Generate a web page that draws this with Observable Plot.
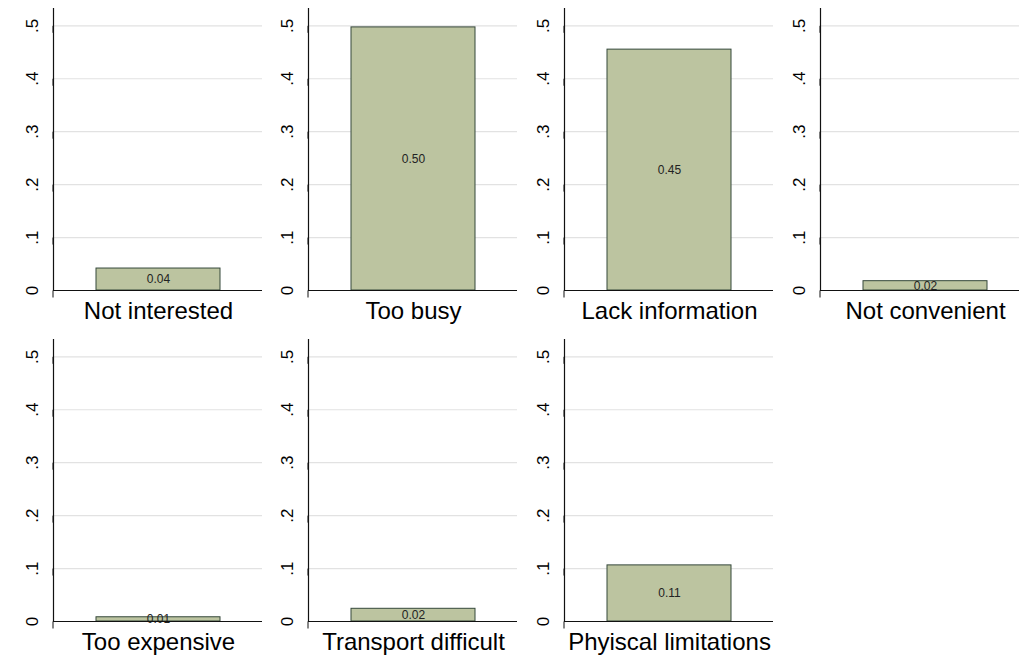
<!DOCTYPE html>
<html><head><meta charset="utf-8">
<script src="https://cdn.jsdelivr.net/npm/d3@7"></script>
<script src="https://cdn.jsdelivr.net/npm/@observablehq/plot@0.6"></script>
<style>
html,body{margin:0;padding:0;background:#fff;}
#chart{position:relative;width:1019px;height:655px;overflow:hidden;background:#fff;}
</style></head><body><div id="chart"></div>
<script>
const categories = ["Not interested", "Too busy", "Lack information", "Not convenient", "Too expensive", "Transport difficult", "Phyiscal limitations"];
const values = [0.0415, 0.497, 0.455, 0.0176, 0.008, 0.024, 0.106];
const valueLabels = ["0.04", "0.50", "0.45", "0.02", "0.01", "0.02", "0.11"];
const yTicks = [0, 0.1, 0.2, 0.3, 0.4, 0.5];
const yTickLabels = ["0", ".1", ".2", ".3", ".4", ".5"];
const panelCol = [0, 1, 2, 3, 0, 1, 2];
const panelRow = [0, 0, 0, 0, 1, 1, 1];

const colLeft = [0, 255, 511, 767];
const rowTop = [0, 331];
const tickLabelMap = new Map(yTicks.map((t, i) => [t, yTickLabels[i]]));
const font = "Arial, 'Liberation Sans', Helvetica, sans-serif";
const chart = document.getElementById("chart");

categories.forEach((cat, i) => {
  const d = [{cat, value: values[i], label: valueLabels[i]}];
  const svg = Plot.plot({
    width: 262, height: 330,
    marginLeft: 53, marginRight: 0, marginTop: 8, marginBottom: 40,
    style: {background: "transparent", fontFamily: font, color: "#000", overflow: "visible"},
    x: {type: "band", domain: [cat], padding: 0.255, label: null},
    y: {domain: [0, 0.5327], label: null},
    marks: [
      Plot.gridY(yTicks.slice(1), {stroke: "#e2e2e2", strokeOpacity: 1, strokeWidth: 1.2}),
      Plot.barY(d, {x: "cat", y: "value", fill: "#bcc4a0", stroke: "#35483b", strokeWidth: 1}),
      Plot.text(d, {x: "cat", y: v => v.value / 2, text: "label", fontSize: 12, fill: "#222"}),
      Plot.ruleY([0], {stroke: "#111", strokeWidth: 1.2}),
      Plot.frame({anchor: "left", stroke: "#111", strokeWidth: 1.2}),
      Plot.axisY(yTicks, {tickSize: 7, tickPadding: 14, rotate: -90, textAnchor: "middle", fontSize: 17,
        tickFormat: t => tickLabelMap.get(t), label: null, stroke: "#111", fill: "#000"}),
      Plot.axisX({tickSize: 0, tickPadding: 11, fontSize: 24, label: null, fill: "#000"})
    ]
  });
  svg.style.position = "absolute";
  svg.style.left = colLeft[panelCol[i]] + "px";
  svg.style.top = rowTop[panelRow[i]] + "px";
  svg.style.maxWidth = "none";
  chart.appendChild(svg);
});
</script></body></html>
